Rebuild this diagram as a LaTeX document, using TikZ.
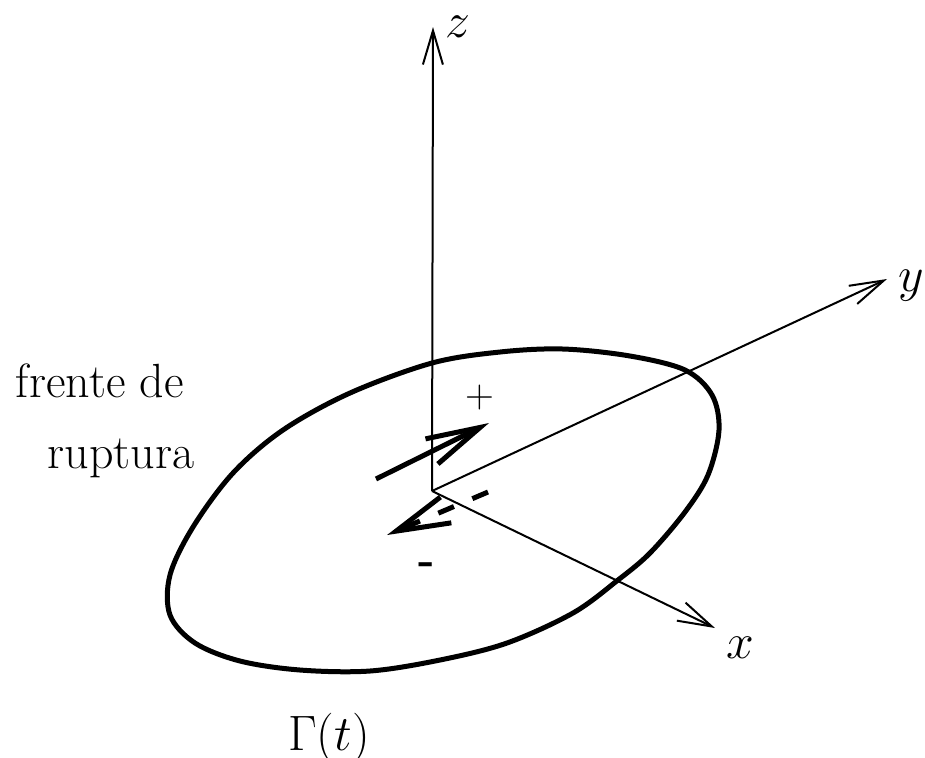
\documentclass[tikz,border=0pt]{standalone}
\usepackage{amsmath}
\usepackage{tikz}
\usetikzlibrary{arrows.meta, positioning}

\begin{document}
\begin{tikzpicture}[x=0.5pt, y=-0.5pt,
    axis/.style={line width=1pt, -{Straight Barb[length=17pt, width=10pt]}},
    slip/.style={line width=2.5pt, -{Straight Barb[length=27pt, width=14pt]}},
    bigmath/.style={font=\fontsize{28}{32}\selectfont, inner sep=0pt},
    txt/.style={font=\fontsize{24}{28}\selectfont},
    sign/.style={font=\fontsize{20}{24}\selectfont, inner sep=0pt}]
  \useasboundingbox (0,0) rectangle (925,757);
  % axes
  \coordinate (O) at (432,491);
  \coordinate (zend) at (433,27);
  \coordinate (yend) at (887,279);
  \coordinate (xend) at (715,628);
  \foreach \e in {zend, yend, xend}
    \draw[axis] (O) -- (\e);
  \node[bigmath] (zlabel) at (458,27) {$z$};
  \node[bigmath] (ylabel) at (911,286) {$y$};
  \node[bigmath] (xlabel) at (740,648) {$x$};
  % rupture front
  \draw[line width=2.5pt] plot[smooth cycle, tension=0.55] coordinates {
    (432,363) (500,352) (563,349) (630,356) (685,370) (712,395)
    (719,430) (708,475) (685,512) (650,553) (618,580) (573,613)
    (507,643) (440,660) (370,671) (300,670) (240,661) (195,643)
    (170,615) (170,575) (193,527) (233,473) (283,430) (350,393)};
  \node[txt, anchor=base] (frente) at (100,397) {frente de};
  \node[txt, anchor=base] (ruptura) at (121,468) {ruptura};
  \node[font=\fontsize{28}{32}\selectfont, anchor=base] (gamma) at (329,750) {$\Gamma(t)$};
  % slip on both faces
  \coordinate (ptail) at (376,479);
  \coordinate (phead) at (489,423);
  \draw[slip] (ptail) -- (phead);
  \coordinate (mtail) at (488,492);
  \coordinate (mhead) at (387,535);
  \draw[slip, dash pattern=on 8.5pt off 10pt] (mtail) -- (mhead);
  \node[sign] (plus) at (480,398) {+};
  \node[sign, font=\fontsize{22}{26}\selectfont\bfseries] (minus) at (427,569) {-};
\end{tikzpicture}
\end{document}
